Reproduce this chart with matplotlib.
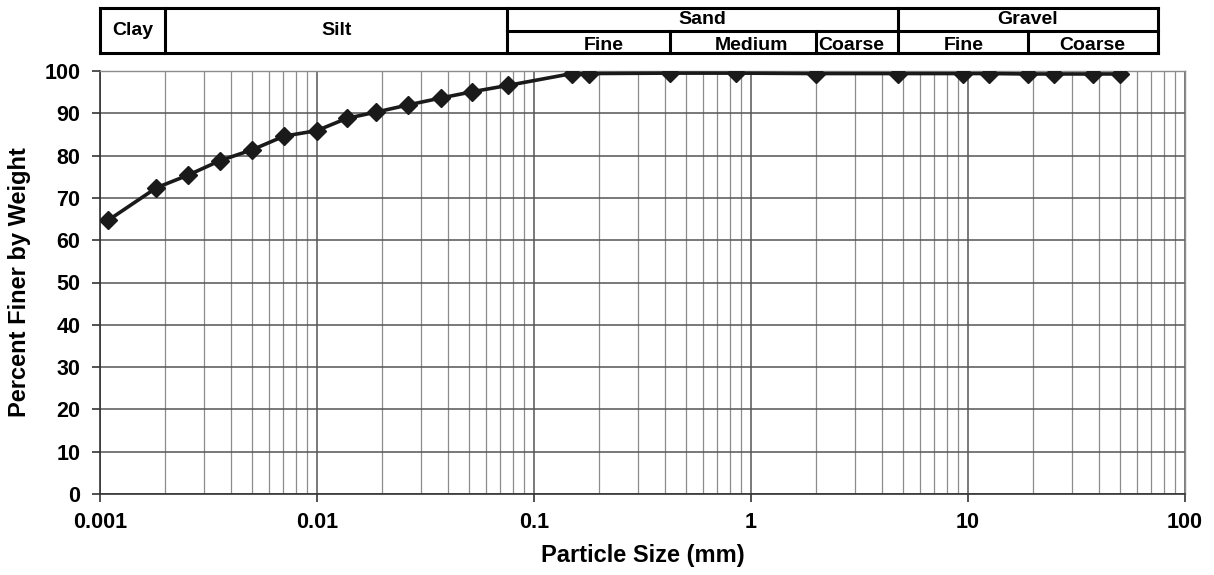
import numpy as np
import matplotlib.pyplot as plt
from matplotlib.ticker import LogLocator, NullFormatter, FixedLocator, FixedFormatter

plt.rcParams['font.family'] = ['Liberation Sans', 'DejaVu Sans']

# Grain size distribution (sieve + hydrometer)
size_mm = [0.00109, 0.00182, 0.00255, 0.00357, 0.00504, 0.00705, 0.00998,
           0.0137, 0.0188, 0.0264, 0.0371, 0.052, 0.0759,
           0.15, 0.18, 0.425, 0.85, 2.0, 4.75, 9.5, 12.5, 19.0, 25.0, 37.5, 50.0]
pct_finer = [64.7, 72.4, 75.4, 78.8, 81.4, 84.6, 85.9,
             88.8, 90.3, 92.0, 93.6, 95.1, 96.6,
             99.4, 99.4, 99.5, 99.5, 99.4, 99.4, 99.4, 99.4, 99.3, 99.3, 99.3, 99.3]

x_ticks = [0.001, 0.01, 0.1, 1, 10, 100]
x_ticklabels = ['0.001', '0.01', '0.1', '1', '10', '100']

# USCS soil classes for the header
main_bounds = [0.001, 0.002, 0.075, 4.75, 75]
main_names = ['Clay', 'Silt', 'Sand', 'Gravel']
sub_bounds = [0.075, 0.425, 2.0, 4.75, 19, 75]
sub_names = ['Fine', 'Medium', 'Coarse', 'Fine', 'Coarse']
sub_label_x = [0.21, 1.0, 2.9, 9.6, 37.5]   # where the labels sit in the original

W, H = 1214, 575
fig = plt.figure(figsize=(W / 100, H / 100), dpi=100)

left, right = 100 / W, 1185 / W
ax = fig.add_axes([left, (H - 494) / H, right - left, (494 - 71) / H])

ax.plot(size_mm, pct_finer, '-D', color='#1a1a1a', lw=2.6, markersize=9.5, zorder=3)

ax.set_xscale('log')
ax.set_xlim(0.001, 100)
ax.set_ylim(0, 100)
ax.set_yticks(np.arange(0, 101, 10))
ax.xaxis.set_major_locator(FixedLocator(x_ticks))
ax.xaxis.set_major_formatter(FixedFormatter(x_ticklabels))
ax.xaxis.set_minor_locator(LogLocator(base=10, subs=np.arange(2, 10)))
ax.xaxis.set_minor_formatter(NullFormatter())

ax.grid(True, which='major', color='#555555', lw=1.1)
ax.grid(True, which='minor', axis='x', color='#8c8c8c', lw=0.9)
ax.set_axisbelow(True)

for side in ['top', 'right']:
    ax.spines[side].set_color('#8c8c8c')
    ax.spines[side].set_linewidth(1.0)
for side in ['left', 'bottom']:
    ax.spines[side].set_color('#333333')
    ax.spines[side].set_linewidth(1.2)

ax.tick_params(axis='both', which='major', direction='out', length=6, width=1.2,
               color='#333333', labelsize=15.5)
ax.tick_params(axis='x', which='minor', length=0)
ax.tick_params(axis='y', pad=8)
ax.tick_params(axis='x', pad=7)
for lbl in ax.get_xticklabels() + ax.get_yticklabels():
    lbl.set_fontweight('bold')

ax.set_xlabel('Particle Size (mm)', fontsize=17, fontweight='bold', labelpad=8)
ax.set_ylabel('Percent Finer by Weight', fontsize=17, fontweight='bold', labelpad=10)

# Header with soil classification
hx = fig.add_axes([left, (H - 53) / H, right - left, (53 - 8) / H])
hx.set_xscale('log')
hx.set_xlim(0.001, 100)
hx.set_ylim(0, 2)
hx.axis('off')

kw = dict(color='black', lw=2.2, clip_on=False, solid_capstyle='projecting')
hx.plot([main_bounds[0], main_bounds[-1]], [0, 0], **kw)
hx.plot([main_bounds[0], main_bounds[-1]], [2, 2], **kw)
hx.plot([sub_bounds[0], sub_bounds[-1]], [1, 1], **kw)
for b in main_bounds:
    hx.plot([b, b], [0, 2], **kw)
for b in sub_bounds:
    if b not in main_bounds:
        hx.plot([b, b], [0, 1], **kw)

def geo_mid(a, b):
    return np.sqrt(a * b)

for i, name in enumerate(main_names):
    xm = geo_mid(main_bounds[i], main_bounds[i + 1])
    ym = 0.98 if name in ('Clay', 'Silt') else 1.5
    hx.text(xm, ym, name, ha='center', va='center', fontsize=14, fontweight='bold')
for name, xm in zip(sub_names, sub_label_x):
    hx.text(xm, 0.34, name, ha='center', va='center', fontsize=14, fontweight='bold')

plt.savefig('out.png', dpi=100)
